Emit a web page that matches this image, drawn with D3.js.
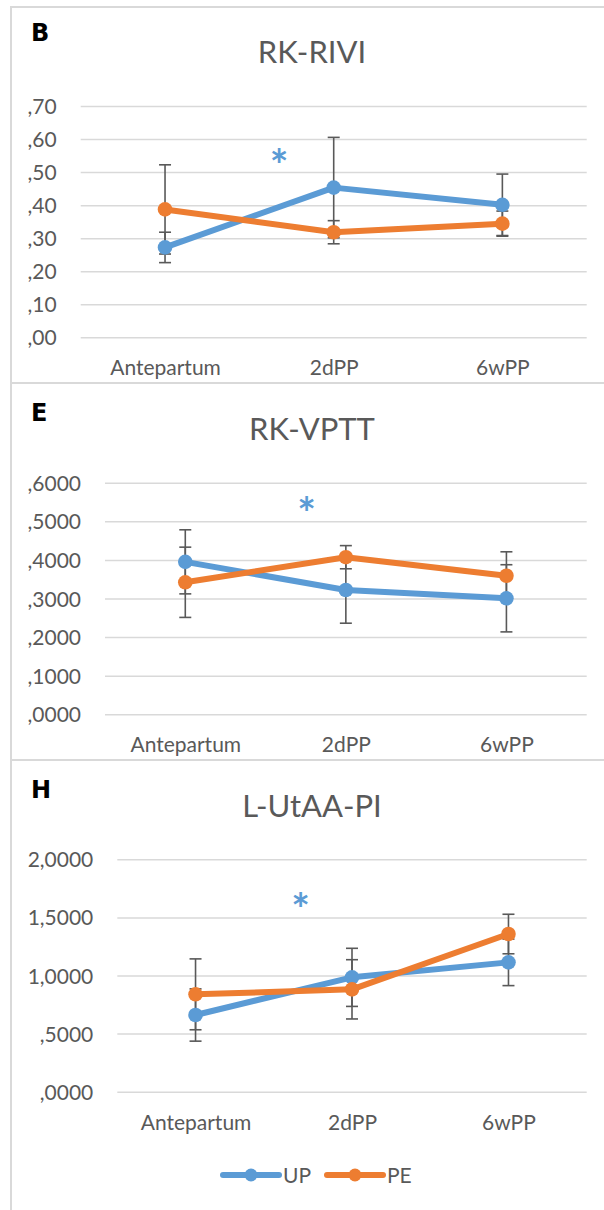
<!DOCTYPE html>
<html>
<head>
<meta charset="utf-8">
<script src="https://cdn.jsdelivr.net/npm/d3@7"></script>
<style>
  body { margin: 0; background: #fff; }
  text { font-family: Lato, "Open Sans", sans-serif; }
</style>
</head>
<body>
<script>
// three small panels, Excel style line charts w/ error bars

var categories = ["Antepartum", "2dPP", "6wPP"];
var seriesNames = ["UP", "PE"];

// panel B  RK-RIVI
var rkriviUP = [0.272, 0.453, 0.401];
var rkriviUPerr = [0.046, 0.152, 0.093];
var rkriviPE = [0.387, 0.318, 0.344];
var rkriviPEerr = [0.135, 0.035, 0.038];
var rkriviTicks = [0, 0.1, 0.2, 0.3, 0.4, 0.5, 0.6, 0.7];
var rkriviTickLabels = [",00", ",10", ",20", ",30", ",40", ",50", ",60", ",70"];

// panel E  RK-VPTT
var rkvpttUP = [0.395, 0.322, 0.3005];
var rkvpttUPerr = [0.083, 0.086, 0.087];
var rkvpttPE = [0.342, 0.407, 0.359];
var rkvpttPEerr = [0.091, 0.030, 0.062];
var rkvpttTicks = [0, 0.1, 0.2, 0.3, 0.4, 0.5, 0.6];
var rkvpttTickLabels = [",0000", ",1000", ",2000", ",3000", ",4000", ",5000", ",6000"];

// panel H  L-UtAA-PI
var lutaaUP = [0.660, 0.984, 1.113];
var lutaaUPerr = [0.225, 0.250, 0.200];
var lutaaPE = [0.838, 0.881, 1.357];
var lutaaPEerr = [0.305, 0.255, 0.170];
var lutaaTicks = [0, 0.5, 1, 1.5, 2];
var lutaaTickLabels = [",0000", ",5000", "1,0000", "1,5000", "2,0000"];

// significance star: [fraction of step after first category, value]
var starB = [0.676, 0.55];
var starE = [0.756, 0.546];
var starH = [0.672, 1.65];

var colors = ["#5b9bd5", "#ed7d31"];
var width = 604, height = 1210;

var svg = d3.select("body").append("svg")
  .attr("width", width)
  .attr("height", height);

// frame + separators
var frame = svg.append("g").attr("stroke", "#d9d9d9").attr("stroke-width", 2);
frame.append("line").attr("x1", 11).attr("x2", 11).attr("y1", 6).attr("y2", height);
[7, 383, 760].forEach(function(y) {
  frame.append("line").attr("x1", 10).attr("x2", width).attr("y1", y).attr("y2", y);
});

var drawPanel = function(p) {
  var g = svg.append("g");

  var x = d3.scalePoint().domain(categories).range([p.left, 586.7]).padding(0.5);
  var y = d3.scaleLinear().domain([0, p.max]).range([p.bottom, p.top]);

  // y axis + gridlines
  var yAxis = d3.axisLeft(y)
    .tickValues(p.ticks)
    .tickFormat(function(d, i) { return p.tickLabels[i]; })
    .tickSizeInner(-(586.7 - p.left))
    .tickSizeOuter(0)
    .tickPadding(24);
  var ya = g.append("g").attr("transform", "translate(" + p.left + ",0)").call(yAxis);
  ya.select(".domain").remove();
  ya.selectAll("line").attr("stroke", "#d9d9d9").attr("stroke-width", 1.5);
  ya.selectAll("text").attr("fill", "#595959").style("font-size", "21px").attr("dy", "0.36em");

  // x labels
  var xa = g.append("g").attr("transform", "translate(0," + p.bottom + ")")
    .call(d3.axisBottom(x).tickSize(0).tickPadding(0));
  xa.select(".domain").remove();
  xa.selectAll("text").attr("fill", "#595959").style("font-size", "21px")
    .attr("y", 38).attr("dy", 0);

  // panel letter + title
  g.append("text").attr("x", 31).attr("y", p.letterY)
    .style("font-family", "'DejaVu Sans', Verdana, sans-serif")
    .style("font-weight", "bold").style("font-size", "24px")
    .attr("fill", "#000").text(p.letter);
  g.append("text").attr("x", 312).attr("y", p.titleY)
    .attr("text-anchor", "middle").attr("fill", "#595959")
    .style("font-size", "31px").text(p.title);

  var series = [
    {name: "UP", vals: p.up, err: p.upErr, color: colors[0]},
    {name: "PE", vals: p.pe, err: p.peErr, color: colors[1]}
  ];

  // error bars (behind lines)
  series.forEach(function(s) {
    var eb = g.append("g").attr("stroke", "#595959").attr("stroke-width", 1.6);
    s.vals.forEach(function(v, i) {
      var cx = x(categories[i]);
      eb.append("line").attr("x1", cx).attr("x2", cx)
        .attr("y1", y(v - s.err[i])).attr("y2", y(v + s.err[i]));
      [v - s.err[i], v + s.err[i]].forEach(function(e) {
        eb.append("line").attr("x1", cx - 6).attr("x2", cx + 6)
          .attr("y1", y(e)).attr("y2", y(e));
      });
    });
  });

  var line = d3.line()
    .x(function(d, i) { return x(categories[i]); })
    .y(function(d) { return y(d); });

  series.forEach(function(s) {
    g.append("path").datum(s.vals)
      .attr("d", line)
      .attr("fill", "none")
      .attr("stroke", s.color)
      .attr("stroke-width", 6)
      .attr("stroke-linejoin", "round");
    g.selectAll(null).data(s.vals).enter().append("circle")
      .attr("cx", function(d, i) { return x(categories[i]); })
      .attr("cy", function(d) { return y(d); })
      .attr("r", 7.3)
      .attr("fill", s.color);
  });

  // star
  var sx = x(categories[0]) + p.star[0] * x.step();
  g.append("text").attr("x", sx).attr("y", y(p.star[1]) + 25)
    .attr("text-anchor", "middle").attr("fill", colors[0])
    .style("font-size", "44px").style("font-weight", "bold").text("*");
};

drawPanel({letter: "B", title: "RK-RIVI", letterY: 41, titleY: 62.5,
  left: 80.7, top: 106, bottom: 337.3, max: 0.7,
  ticks: rkriviTicks, tickLabels: rkriviTickLabels,
  up: rkriviUP, upErr: rkriviUPerr, pe: rkriviPE, peErr: rkriviPEerr, star: starB});

drawPanel({letter: "E", title: "RK-VPTT", letterY: 420.5, titleY: 440,
  left: 105, top: 482.7, bottom: 714.3, max: 0.6,
  ticks: rkvpttTicks, tickLabels: rkvpttTickLabels,
  up: rkvpttUP, upErr: rkvpttUPerr, pe: rkvpttPE, peErr: rkvpttPEerr, star: starE});

drawPanel({letter: "H", title: "L-UtAA-PI", letterY: 798, titleY: 817,
  left: 117.3, top: 859.3, bottom: 1091.7, max: 2,
  ticks: lutaaTicks, tickLabels: lutaaTickLabels,
  up: lutaaUP, upErr: lutaaUPerr, pe: lutaaPE, peErr: lutaaPEerr, star: starH});

// legend
var legend = svg.append("g").attr("transform", "translate(223,1175)");
seriesNames.forEach(function(name, i) {
  var lg = legend.append("g").attr("transform", "translate(" + (i * 104) + ",0)");
  lg.append("line").attr("x1", 0).attr("x2", 56).attr("y1", 0).attr("y2", 0)
    .attr("stroke", colors[i]).attr("stroke-width", 6).attr("stroke-linecap", "round");
  lg.append("circle").attr("cx", 28).attr("cy", 0).attr("r", 6.5).attr("fill", colors[i]);
  lg.append("text").attr("x", 60).attr("y", 7.5).attr("fill", "#595959")
    .style("font-size", "21px").text(name);
});
</script>
</body>
</html>
